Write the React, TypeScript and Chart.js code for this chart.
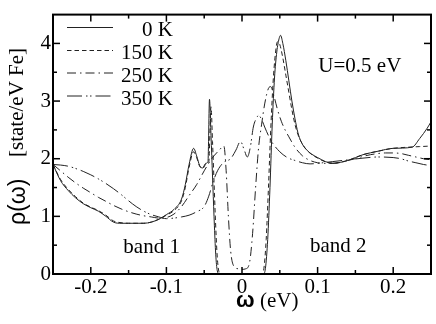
import React, { useEffect, useRef } from "react";
import { Chart, registerables } from "chart.js";

Chart.register(...registerables);

// ---------- data ----------
const seriesLabels = ["0 K", "150 K", "250 K", "350 K"];

const xTicks = [-0.2, -0.1, 0, 0.1, 0.2];
const xMinorTicks = [-0.15, -0.05, 0.05, 0.15];
const yTicks = [0, 1, 2, 3, 4];
const yMinorTicks = [0.5, 1.5, 2.5, 3.5];

const omega0K = [-0.25, -0.24, -0.23, -0.22, -0.21, -0.2, -0.19, -0.18, -0.17, -0.16, -0.15, -0.14, -0.13, -0.12, -0.11, -0.1, -0.09, -0.08, -0.075, -0.07, -0.064, -0.06, -0.056, -0.052, -0.048, -0.045, -0.043, -0.041, -0.039, -0.037, -0.035, -0.033, -0.03, 0.028, 0.031, 0.034, 0.037, 0.04, 0.043, 0.046, 0.049, 0.051, 0.054, 0.058, 0.062, 0.066, 0.07, 0.074, 0.078, 0.085, 0.1, 0.12, 0.14, 0.16, 0.18, 0.2, 0.225, 0.235, 0.245, 0.25];
const rho0K = [1.9, 1.62, 1.45, 1.32, 1.22, 1.15, 1.09, 1.0, 0.9, 0.88, 0.88, 0.88, 0.88, 0.9, 0.95, 1.03, 1.12, 1.3, 1.55, 1.9, 2.18, 2.05, 1.88, 1.84, 1.92, 1.95, 3.03, 2.4, 1.7, 1.0, 0.4, 0.08, 0.0, 0.0, 0.1, 0.6, 1.5, 2.6, 3.4, 3.85, 4.08, 4.14, 4.0, 3.7, 3.35, 3.0, 2.7, 2.45, 2.3, 2.16, 2.02, 1.92, 1.97, 2.07, 2.13, 2.18, 2.2, 2.35, 2.53, 2.64];

const omega150K = [-0.25, -0.24, -0.23, -0.22, -0.21, -0.2, -0.19, -0.18, -0.17, -0.16, -0.15, -0.14, -0.13, -0.12, -0.11, -0.1, -0.09, -0.08, -0.075, -0.07, -0.064, -0.06, -0.056, -0.052, -0.048, -0.044, -0.041, -0.039, -0.037, -0.035, -0.033, -0.031, -0.028, 0.026, 0.029, 0.032, 0.035, 0.038, 0.041, 0.044, 0.047, 0.05, 0.054, 0.058, 0.062, 0.066, 0.07, 0.074, 0.078, 0.085, 0.1, 0.12, 0.14, 0.16, 0.18, 0.2, 0.22, 0.235, 0.25];
const rho150K = [1.9, 1.64, 1.47, 1.34, 1.23, 1.16, 1.1, 1.02, 0.92, 0.89, 0.88, 0.88, 0.88, 0.9, 0.95, 1.02, 1.1, 1.27, 1.5, 1.85, 2.12, 2.02, 1.87, 1.83, 1.9, 1.93, 2.9, 2.3, 1.6, 0.9, 0.35, 0.07, 0.0, 0.0, 0.1, 0.6, 1.5, 2.5, 3.3, 3.8, 4.03, 3.98, 3.75, 3.45, 3.15, 2.85, 2.6, 2.42, 2.3, 2.16, 2.01, 1.92, 1.97, 2.07, 2.13, 2.18, 2.2, 2.21, 2.22];

const omega250K = [-0.25, -0.24, -0.23, -0.22, -0.21, -0.2, -0.19, -0.18, -0.17, -0.16, -0.15, -0.14, -0.13, -0.12, -0.11, -0.1, -0.09, -0.08, -0.07, -0.06, -0.05, -0.04, -0.03, -0.024, -0.021, -0.018, -0.015, -0.011, -0.005, 0, 0.005, 0.01, 0.014, 0.018, 0.022, 0.026, 0.03, 0.035, 0.038, 0.042, 0.047, 0.052, 0.057, 0.062, 0.07, 0.08, 0.09, 0.1, 0.11, 0.12, 0.13, 0.14, 0.15, 0.16, 0.17, 0.18, 0.19, 0.2, 0.21, 0.22, 0.23, 0.24, 0.25];
const rho250K = [1.9, 1.79, 1.68, 1.58, 1.49, 1.41, 1.33, 1.26, 1.19, 1.13, 1.08, 1.04, 1.01, 0.99, 0.97, 0.98, 1.04, 1.17, 1.36, 1.55, 1.79, 2.0, 2.15, 2.22, 1.8, 1.0, 0.4, 0.14, 0.09, 0.08, 0.09, 0.2, 0.7, 1.5, 2.2, 2.6, 2.95, 3.22, 3.25, 3.1, 2.85, 2.65, 2.5, 2.38, 2.2, 2.05, 1.97, 1.93, 1.92, 1.92, 1.94, 1.97, 2.0, 2.04, 2.07, 2.09, 2.1, 2.1, 2.09, 2.06, 2.03, 2.0, 1.98];

const omega350K = [-0.25, -0.24, -0.23, -0.22, -0.21, -0.2, -0.19, -0.18, -0.17, -0.16, -0.15, -0.14, -0.13, -0.12, -0.11, -0.1, -0.09, -0.08, -0.07, -0.06, -0.05, -0.044, -0.038, -0.032, -0.024, -0.015, -0.008, -0.002, 0.003, 0.007, 0.011, 0.015, 0.019, 0.022, 0.026, 0.03, 0.035, 0.04, 0.05, 0.06, 0.07, 0.08, 0.09, 0.1, 0.12, 0.14, 0.16, 0.18, 0.2, 0.21, 0.22, 0.23, 0.24, 0.25];
const rho350K = [1.9, 1.89, 1.87, 1.83, 1.78, 1.72, 1.65, 1.57, 1.48, 1.38, 1.27, 1.17, 1.09, 1.03, 0.99, 0.96, 0.97, 0.99, 1.02, 1.08, 1.17, 1.35, 1.61, 1.8, 1.94, 2.0, 2.15, 2.3, 2.15, 2.03, 2.2, 2.55, 2.7, 2.75, 2.68, 2.55, 2.4, 2.28, 2.12, 2.02, 1.97, 1.93, 1.91, 1.92, 1.95, 1.98, 2.01, 2.03, 2.02, 2.0, 1.96, 1.93, 1.9, 1.88];

const seriesX = [omega0K, omega150K, omega250K, omega350K];
const seriesY = [rho0K, rho150K, rho250K, rho350K];

// ---------- styles ----------
const lineDashes = [[], [4.5, 3], [9, 4, 1.5, 4], [15, 4, 1.5, 2.5, 1.5, 4]];
const SERIF = '"Liberation Serif", "Times New Roman", serif';
const SANS = '"Liberation Sans", Arial, sans-serif';

const decorPlugin = {
  id: "decor",
  afterDraw(chart: any) {
    const { ctx, chartArea: a, scales } = chart;
    const xs = scales.x;
    const ys = scales.y;
    ctx.save();
    ctx.strokeStyle = "#000";
    ctx.fillStyle = "#000";
    ctx.lineWidth = 1.5;
    const seg = (x1: number, y1: number, x2: number, y2: number) => {
      ctx.beginPath();
      ctx.moveTo(x1, y1);
      ctx.lineTo(x2, y2);
      ctx.stroke();
    };
    const xTick = (v: number, len: number) => {
      const px = xs.getPixelForValue(v);
      seg(px, a.bottom, px, a.bottom - len);
      seg(px, a.top, px, a.top + len);
    };
    const yTick = (v: number, len: number) => {
      const py = ys.getPixelForValue(v);
      seg(a.left, py, a.left + len, py);
      seg(a.right, py, a.right - len, py);
    };
    xTicks.forEach((v) => xTick(v, 7));
    xMinorTicks.forEach((v) => xTick(v, 4));
    yTicks.forEach((v) => yTick(v, 7));
    yMinorTicks.forEach((v) => yTick(v, 4));

    // frame
    ctx.lineWidth = 2;
    ctx.strokeRect(a.left, a.top, a.right - a.left, a.bottom - a.top);

    // legend
    const rows = [27.5, 50.5, 73, 96];
    chart.data.datasets.forEach((ds: any, i: number) => {
      const y = rows[i];
      ctx.lineWidth = 1;
      ctx.strokeStyle = "#222";
      ctx.setLineDash(ds.borderDash || []);
      seg(67, y, 113, y);
      ctx.setLineDash([]);
      ctx.font = `21px ${SERIF}`;
      ctx.textAlign = "right";
      ctx.textBaseline = "alphabetic";
      ctx.fillText(ds.label, 173, y + 8.5);
    });

    // annotations
    ctx.font = `21px ${SERIF}`;
    ctx.textAlign = "left";
    ctx.textBaseline = "alphabetic";
    ctx.fillText("U=0.5 eV", xs.getPixelForValue(0.101), ys.getPixelForValue(3.5));
    ctx.fillText("band 1", xs.getPixelForValue(-0.157), ys.getPixelForValue(0.36));
    ctx.fillText("band 2", xs.getPixelForValue(0.09), ys.getPixelForValue(0.39));

    // x title
    ctx.font = `bold 22px ${SANS}`;
    ctx.fillText("ω", 236, 307);
    ctx.font = `21px ${SERIF}`;
    ctx.fillText("(eV)", 260, 307);

    // y title
    ctx.save();
    ctx.translate(17, 225);
    ctx.rotate(-Math.PI / 2);
    ctx.textAlign = "left";
    ctx.textBaseline = "middle";
    ctx.font = `23px ${SANS}`;
    ctx.fillText("ρ(ω)", 0, 2);
    ctx.font = `21px ${SERIF}`;
    ctx.fillText("[state/eV Fe]", 68, 0);
    ctx.restore();

    ctx.restore();
  },
};

export default function App() {
  const canvasRef = useRef<HTMLCanvasElement | null>(null);

  useEffect(() => {
    if (!canvasRef.current) return;
    const datasets = seriesLabels.map((label, i) => ({
      label,
      data: seriesX[i].map((x, j) => ({ x, y: seriesY[i][j] })),
      borderColor: "#222",
      borderWidth: 1,
      borderDash: lineDashes[i],
      pointRadius: 0,
      fill: false,
      showLine: true,
      cubicInterpolationMode: "monotone" as const,
    }));

    const chart = new Chart(canvasRef.current, {
      type: "scatter",
      data: { datasets },
      options: {
        animation: false,
        responsive: false,
        events: [],
        layout: { padding: { left: 0, right: 5, top: 4, bottom: 0 } },
        plugins: {
          legend: { display: false },
          tooltip: { enabled: false },
        },
        scales: {
          x: {
            type: "linear",
            min: -0.25,
            max: 0.25,
            grid: { display: false, drawTicks: false },
            border: { display: false },
            afterBuildTicks: (scale: any) => {
              scale.ticks = xTicks.map((value) => ({ value }));
            },
            afterFit: (scale: any) => {
              scale.height = 50;
            },
            ticks: {
              autoSkip: false,
              maxRotation: 0,
              padding: 1,
              color: "#000",
              font: { family: SERIF, size: 21 },
              callback: (v: any) => (Number(v) === 0 ? "0" : Number(v).toFixed(1)),
            },
          },
          y: {
            type: "linear",
            min: 0,
            max: 4.5,
            grid: { display: false, drawTicks: false },
            border: { display: false },
            afterBuildTicks: (scale: any) => {
              scale.ticks = yTicks.map((value) => ({ value }));
            },
            afterFit: (scale: any) => {
              scale.width = 53;
            },
            ticks: {
              autoSkip: false,
              padding: 2,
              color: "#000",
              font: { family: SERIF, size: 21 },
              callback: (v: any) => String(Number(v)),
            },
          },
        },
      },
      plugins: [decorPlugin],
    });
    return () => chart.destroy();
  }, []);

  return (
    <div style={{ position: "absolute", left: 0, top: 0, width: 436, height: 324, background: "#fff" }}>
      <canvas ref={canvasRef} width={436} height={324} style={{ display: "block" }} />
    </div>
  );
}
